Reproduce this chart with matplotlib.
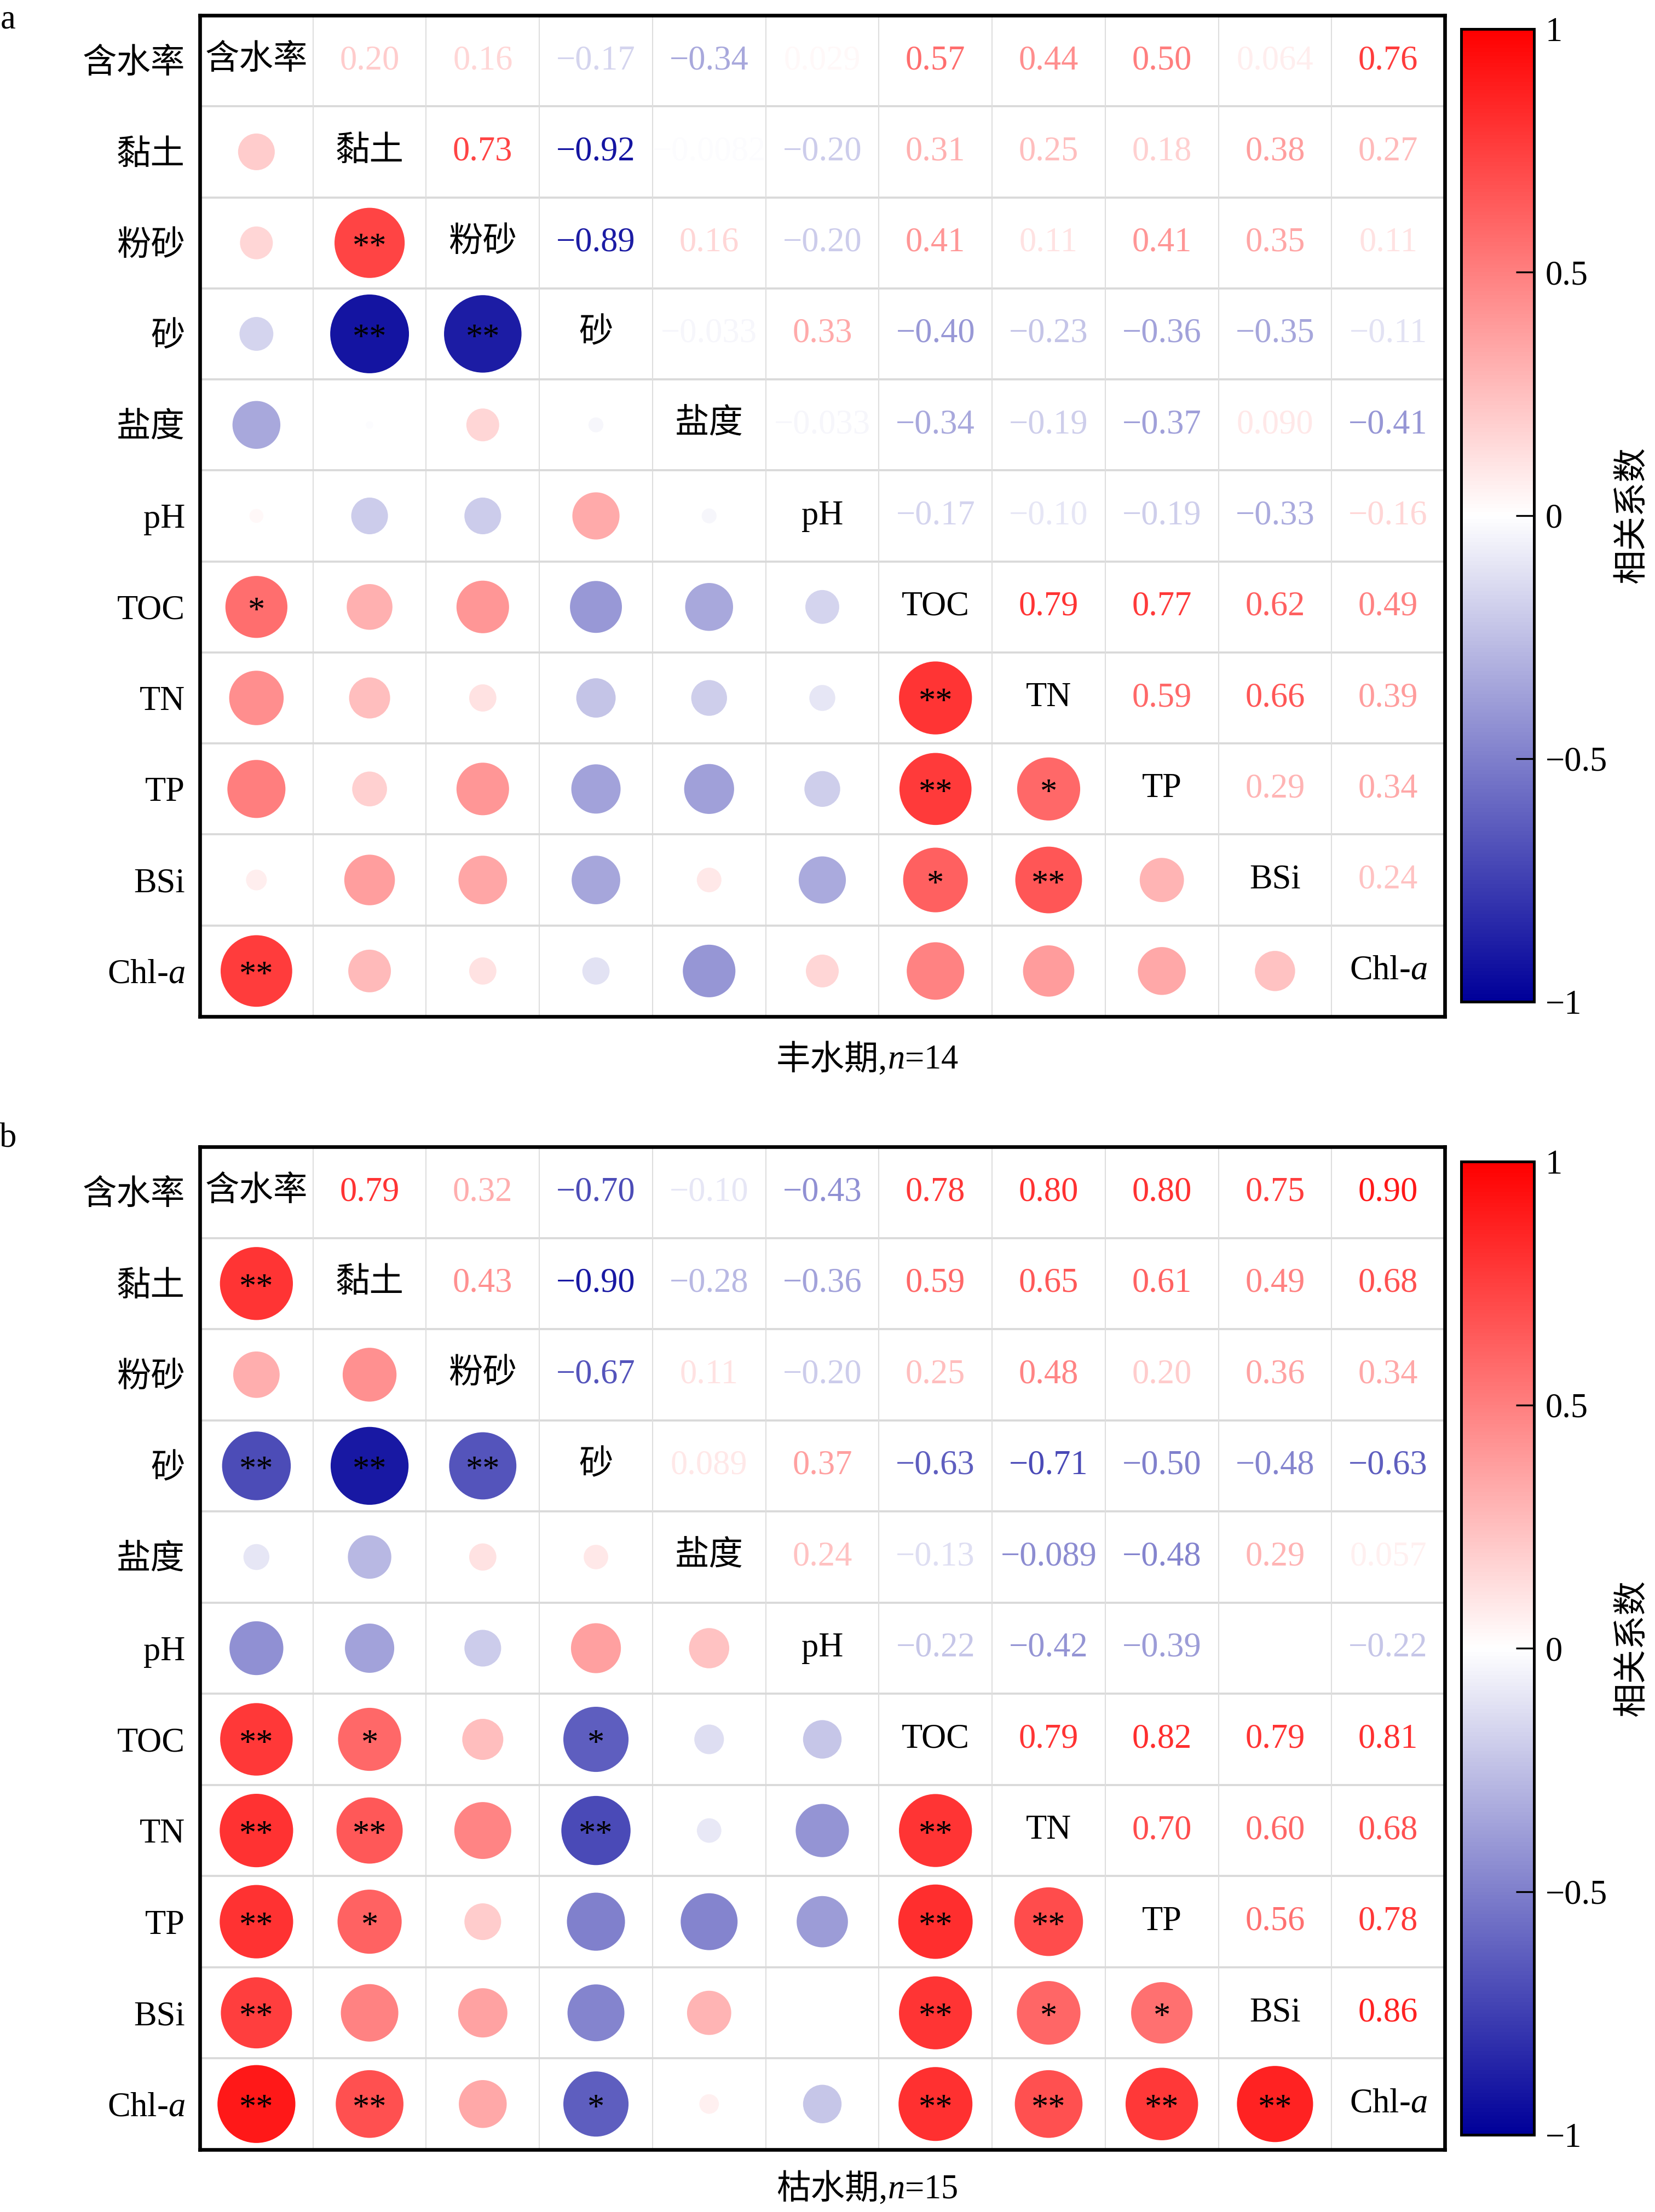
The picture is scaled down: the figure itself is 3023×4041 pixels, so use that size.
import numpy as np
import matplotlib
matplotlib.use("Agg")
import matplotlib.pyplot as plt
from matplotlib.colors import LinearSegmentedColormap, Normalize
from matplotlib.cm import ScalarMappable

plt.rcParams['font.family'] = ['Liberation Serif', 'Noto Sans CJK SC']
plt.rcParams['mathtext.fontset'] = 'custom'
plt.rcParams['mathtext.rm'] = 'Liberation Serif'
plt.rcParams['mathtext.it'] = 'Liberation Serif:italic'
plt.rcParams['axes.unicode_minus'] = True

# ---------------- data ----------------
variables = ['含水率', '黏土', '粉砂', '砂', '盐度', 'pH', 'TOC', 'TN', 'TP', 'BSi', 'Chl-a']
var_labels = ['含水率', '黏土', '粉砂', '砂', '盐度', 'pH', 'TOC', 'TN', 'TP', 'BSi', 'Chl-$a$']

# upper-triangle rows: row i holds r with columns i+1 .. 10
wet_upper = [
    [0.20, 0.16, -0.17, -0.34, 0.029, 0.57, 0.44, 0.50, 0.064, 0.76],
    [0.73, -0.92, -0.0082, -0.20, 0.31, 0.25, 0.18, 0.38, 0.27],
    [-0.89, 0.16, -0.20, 0.41, 0.11, 0.41, 0.35, 0.11],
    [-0.033, 0.33, -0.40, -0.23, -0.36, -0.35, -0.11],
    [-0.033, -0.34, -0.19, -0.37, 0.090, -0.41],
    [-0.17, -0.10, -0.19, -0.33, -0.16],
    [0.79, 0.77, 0.62, 0.49],
    [0.59, 0.66, 0.39],
    [0.29, 0.34],
    [0.24],
]
dry_upper = [
    [0.79, 0.32, -0.70, -0.10, -0.43, 0.78, 0.80, 0.80, 0.75, 0.90],
    [0.43, -0.90, -0.28, -0.36, 0.59, 0.65, 0.61, 0.49, 0.68],
    [-0.67, 0.11, -0.20, 0.25, 0.48, 0.20, 0.36, 0.34],
    [0.089, 0.37, -0.63, -0.71, -0.50, -0.48, -0.63],
    [0.24, -0.13, -0.089, -0.48, 0.29, 0.057],
    [-0.22, -0.42, -0.39, np.nan, -0.22],
    [0.79, 0.82, 0.79, 0.81],
    [0.70, 0.60, 0.68],
    [0.56, 0.78],
    [0.86],
]

# shading drawn in the original that differs from the printed sign / magnitude
wet_shade_fix = {('pH', 'Chl-a'): 0.16}
dry_text_shade_fix = {('盐度', 'TN'): -0.45}

# significance marks (row variable, column variable) in lower triangle
wet_sig = [('TOC', '含水率', '*'), ('Chl-a', '含水率', '**'),
           ('粉砂', '黏土', '**'), ('砂', '黏土', '**'), ('砂', '粉砂', '**'),
           ('TN', 'TOC', '**'), ('TP', 'TOC', '**'), ('BSi', 'TOC', '*'),
           ('TP', 'TN', '*'), ('BSi', 'TN', '**')]
dry_sig = [('黏土', '含水率', '**'), ('砂', '含水率', '**'), ('TOC', '含水率', '**'),
           ('TN', '含水率', '**'), ('TP', '含水率', '**'), ('BSi', '含水率', '**'),
           ('Chl-a', '含水率', '**'),
           ('砂', '黏土', '**'), ('TOC', '黏土', '*'), ('TN', '黏土', '**'),
           ('TP', '黏土', '*'), ('Chl-a', '黏土', '**'),
           ('砂', '粉砂', '**'),
           ('TOC', '砂', '*'), ('TN', '砂', '**'), ('Chl-a', '砂', '*'),
           ('TN', 'TOC', '**'), ('TP', 'TOC', '**'), ('BSi', 'TOC', '**'), ('Chl-a', 'TOC', '**'),
           ('TP', 'TN', '**'), ('BSi', 'TN', '*'), ('Chl-a', 'TN', '**'),
           ('BSi', 'TP', '*'), ('Chl-a', 'TP', '**'),
           ('Chl-a', 'BSi', '**')]

titles_pre = ['丰水期,', '枯水期,']
titles_post = ['$n$=14', '$n$=15']
panel_letters = ['a', 'b']
cbar_ticks = [-1, -0.5, 0, 0.5, 1]
cbar_ticklabels = ['−1', '−0.5', '0', '0.5', '1']
cbar_title = '相关系数'

# ---------------- styling ----------------
W, H, DPI = 3023, 4041, 300
cmap = LinearSegmentedColormap.from_list('bwr_custom', ['#000099', '#ffffff', '#ff0000'])
norm = Normalize(-1, 1)
FS = 15
S_MAX = 1296.0  # marker area (pt^2) at |r| = 1


def full_matrix(upper):
    n = len(variables)
    m = np.eye(n)
    for i, row in enumerate(upper):
        for k, v in enumerate(row):
            j = i + 1 + k
            m[i, j] = v
            m[j, i] = v
    return m


def fmt(v):
    s = '%#.2g' % v
    return s.replace('-', '−')


fig = plt.figure(figsize=(W / DPI, H / DPI), dpi=DPI)

panels = [
    dict(upper=wet_upper, sig=wet_sig, shade=wet_shade_fix, tshade={},
         box=(365, 28, 2639, 1857), cbar=(2669, 53, 2802, 1830), title_y=1937, letter_y=37),
    dict(upper=dry_upper, sig=dry_sig, shade={}, tshade=dry_text_shade_fix,
         box=(365, 2095, 2639, 3927), cbar=(2669, 2122, 2802, 3900), title_y=4000, letter_y=2080),
]


def rect(x0, y0, x1, y1):
    return [x0 / W, 1 - y1 / H, (x1 - x0) / W, (y1 - y0) / H]


idx = {v: i for i, v in enumerate(variables)}
n = len(variables)

for p, P in enumerate(panels):
    m = full_matrix(P['upper'])
    shade = m.copy()
    for (a, b), v in P['shade'].items():
        shade[idx[a], idx[b]] = v
        shade[idx[b], idx[a]] = v
    tshade = shade.copy()
    for (a, b), v in P['tshade'].items():
        tshade[idx[a], idx[b]] = v

    ax = fig.add_axes(rect(*P['box']))
    ax.set_xlim(-0.5, n - 0.5)
    ax.set_ylim(n - 0.5, -0.5)
    for k in range(1, n):
        ax.axhline(k - 0.5, color='#d9d9d9', lw=0.9, zorder=0)
        ax.axvline(k - 0.5, color='#dedede', lw=0.5, zorder=0)
    for sp in ax.spines.values():
        sp.set_linewidth(1.6)
        sp.set_color('black')
    ax.set_xticks([])
    ax.set_yticks(range(n))
    ax.set_yticklabels(var_labels, fontsize=FS)
    ax.tick_params(axis='y', length=0, pad=6.5)

    # lower triangle circles
    xs, ys, vals, cv = [], [], [], []
    for i in range(n):
        for j in range(i):
            if np.isnan(m[i, j]):
                continue
            xs.append(j); ys.append(i); vals.append(m[i, j]); cv.append(shade[i, j])
    vals = np.array(vals)
    ax.scatter(xs, ys, s=S_MAX * np.abs(vals), c=cv, cmap=cmap, norm=norm,
               edgecolors='none', zorder=2)
    for (a, b, mark) in P['sig']:
        ax.text(idx[b], idx[a] + 0.06, mark, ha='center', va='center',
                fontsize=FS, color='black', zorder=3)

    # diagonal names
    for i in range(n):
        ax.text(i, i, var_labels[i], ha='center', va='center', fontsize=FS, color='black', zorder=3)

    # upper triangle numbers
    for i in range(n):
        for j in range(i + 1, n):
            v = m[i, j]
            if np.isnan(v):
                continue
            ax.text(j, i, fmt(v), ha='center', va='center', fontsize=FS,
                    color=cmap(norm(tshade[i, j])), zorder=3)

    # colorbar
    cax = fig.add_axes(rect(*P['cbar']))
    cb = fig.colorbar(ScalarMappable(norm=norm, cmap=cmap), cax=cax, ticks=cbar_ticks)
    cb.ax.set_yticklabels(cbar_ticklabels, fontsize=FS)
    cb.ax.tick_params(direction='in', length=8, width=0.8, pad=5)
    cb.outline.set_linewidth(1.2)
    cy = 1 - (P['cbar'][1] + P['cbar'][3]) / 2 / H
    fig.text(2983 / W, cy, cbar_title, rotation=90, ha='center', va='center', fontsize=FS)

    # title and letter
    ty = 1 - P['title_y'] / H
    fig.text(1621 / W, ty, titles_pre[p], ha='right', va='center', fontsize=FS)
    fig.text(1621 / W, ty, titles_post[p], ha='left', va='center', fontsize=FS)
    fig.text(15 / W, 1 - P['letter_y'] / H, panel_letters[p], ha='center', va='center', fontsize=FS)

fig.savefig('out.png', dpi=DPI)
